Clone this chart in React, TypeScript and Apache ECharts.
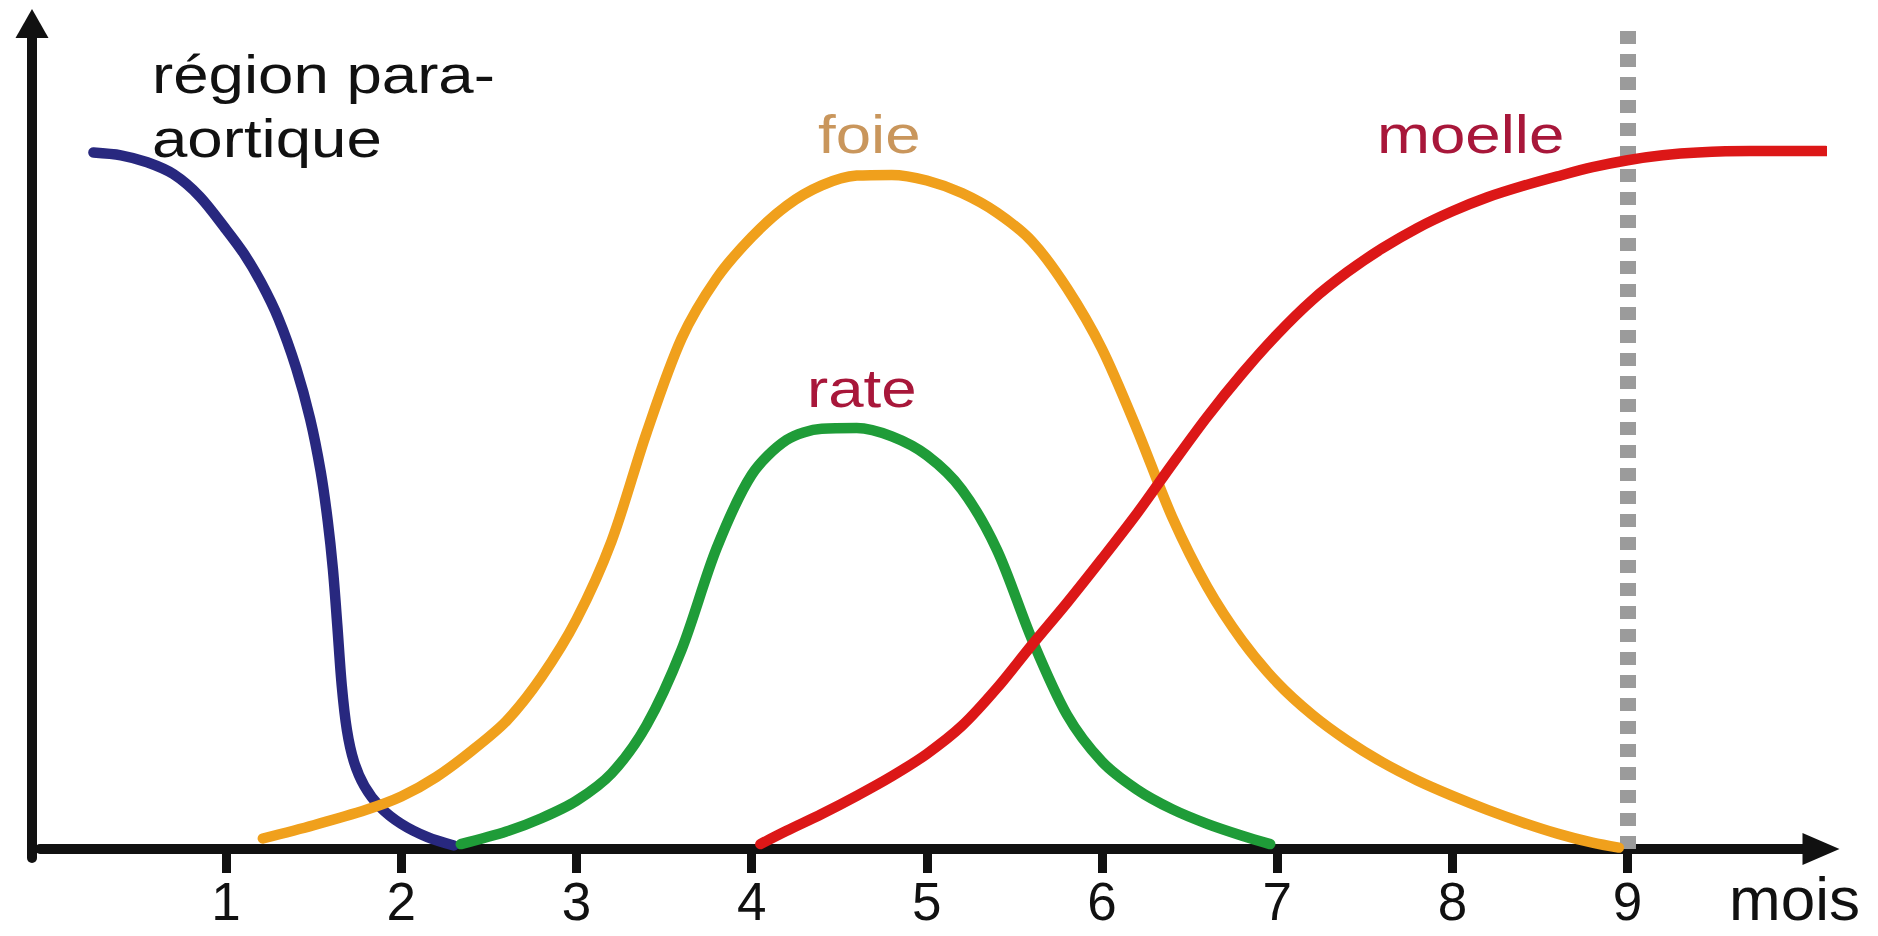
import { useEffect, useRef } from 'react';
import * as echarts from 'echarts';

// Months shown on the horizontal axis
const MONTH_TICKS = [1, 2, 3, 4, 5, 6, 7, 8, 9];
const AXIS_TITLE = 'mois';
const BIRTH_MONTH = 9;

// Relative haematopoietic activity (0–100) per site, as [month, level]
const regionParaAortique: [number, number][] = [
  [0.243, 99.6], [0.4, 99.2], [0.55, 98.2], [0.7, 96.5], [0.85, 93.3],
  [1.0, 88.6], [1.1, 85.2], [1.2, 81.0], [1.3, 75.8], [1.4, 68.8],
  [1.48, 61.5], [1.54, 54.0], [1.58, 47.0], [1.61, 40.0], [1.635, 32.0],
  [1.66, 23.5], [1.69, 17.0], [1.73, 12.5], [1.79, 9.0], [1.88, 6.0],
  [2.0, 3.6], [2.15, 1.7], [2.3, 0.5],
];

const foie: [number, number][] = [
  [1.21, 1.5], [1.5, 3.4], [1.8, 5.6], [2.0, 7.5], [2.2, 10.3],
  [2.4, 14.0], [2.6, 18.3], [2.8, 24.6], [3.0, 32.8], [3.2, 44.0],
  [3.4, 59.5], [3.6, 73.0], [3.8, 81.6], [4.0, 87.5], [4.2, 92.0],
  [4.4, 94.9], [4.6, 96.3], [4.8, 96.4], [5.0, 95.6], [5.2, 93.8],
  [5.4, 91.0], [5.6, 86.9], [5.8, 80.2], [6.0, 71.5], [6.2, 60.0],
  [6.4, 47.5], [6.6, 37.5], [6.8, 29.8], [7.0, 23.8], [7.2, 19.2],
  [7.4, 15.5], [7.6, 12.4], [7.8, 9.8], [8.0, 7.6], [8.2, 5.6],
  [8.4, 3.8], [8.6, 2.2], [8.8, 0.9], [8.95, 0.2],
];

const rate: [number, number][] = [
  [2.34, 0.7], [2.6, 2.5], [2.8, 4.4], [3.0, 6.9], [3.2, 10.8],
  [3.4, 17.7], [3.6, 28.5], [3.8, 43.0], [4.0, 53.5], [4.2, 58.5],
  [4.4, 60.1], [4.6, 60.2], [4.8, 59.0], [5.0, 56.3], [5.2, 51.4],
  [5.4, 42.8], [5.6, 30.0], [5.8, 19.2], [6.0, 12.5], [6.2, 8.5],
  [6.4, 5.7], [6.6, 3.6], [6.8, 1.9], [6.96, 0.7],
];

const moelle: [number, number][] = [
  [4.05, 0.7], [4.2, 2.6], [4.4, 5.0], [4.6, 7.6], [4.8, 10.4],
  [5.0, 13.6], [5.2, 17.6], [5.4, 23.0], [5.6, 29.2], [5.8, 35.2],
  [6.0, 41.5], [6.2, 48.0], [6.4, 55.0], [6.6, 61.8], [6.8, 68.0],
  [7.0, 73.6], [7.2, 78.5], [7.4, 82.5], [7.6, 85.9], [7.8, 88.8],
  [8.0, 91.2], [8.2, 93.2], [8.4, 94.8], [8.6, 96.2], [8.8, 97.5],
  [9.0, 98.5], [9.2, 99.2], [9.4, 99.6], [9.7, 99.8], [10.13, 99.8],
];

const FONT = '"Liberation Sans", Arial, Helvetica, sans-serif';

export default function App() {
  const ref = useRef<HTMLDivElement>(null);

  useEffect(() => {
    if (!ref.current) return;
    const chart = echarts.init(ref.current, null, { renderer: 'svg' });

    const curve = (name: string, data: [number, number][], color: string, z: number) => ({
      type: 'line',
      name,
      data,
      smooth: 0.3,
      showSymbol: false,
      symbol: 'none',
      silent: true,
      z,
      lineStyle: { color, width: 10.5, cap: 'round', join: 'round' },
    });

    const label = (text: string, x: number, y: number, fill: string) => ({
      type: 'text',
      x,
      y,
      scaleX: 1.2,
      silent: true,
      style: {
        text,
        fontFamily: FONT,
        fontSize: 53,
        fill,
        align: 'left',
        verticalAlign: 'middle',
      },
    });

    chart.setOption({
      animation: false,
      backgroundColor: '#ffffff',
      grid: {
        left: 40,
        right: 57,
        top: 23.5,
        bottom: 78,
        containLabel: false,
        outerBoundsMode: 'none',
      },
      xAxis: {
        type: 'value',
        min: -0.062,
        max: 10.104,
        name: AXIS_TITLE,
        nameLocation: 'end',
        nameGap: -92,
        nameTextStyle: {
          fontFamily: FONT,
          fontSize: 62,
          color: '#111',
          align: 'left',
          verticalAlign: 'top',
          padding: [18, 0, 0, 0],
        },
        axisLine: {
          onZero: true,
          symbol: ['none', 'triangle'],
          symbolSize: [32, 37],
          lineStyle: { color: '#111', width: 10 },
        },
        axisTick: {
          show: true,
          customValues: MONTH_TICKS,
          length: 24,
          lineStyle: { color: '#111', width: 9 },
        },
        axisLabel: {
          customValues: MONTH_TICKS,
          fontFamily: FONT,
          fontSize: 53,
          color: '#111',
          margin: 17,
        },
        splitLine: { show: false },
      },
      yAxis: {
        type: 'value',
        min: -1.287,
        max: 118.05,
        offset: 8,
        axisLine: {
          show: true,
          onZero: false,
          symbol: ['none', 'triangle'],
          symbolSize: [33, 29],
          lineStyle: { color: '#111', width: 10 },
        },
        axisTick: { show: false },
        axisLabel: { show: false },
        splitLine: { show: false },
      },
      series: [
        {
          ...curve('région para-aortique', regionParaAortique, '#28287f', 3),
          markLine: {
            silent: true,
            z: 1,
            symbol: ['none', 'none'],
            label: { show: false },
            lineStyle: { color: '#9b9b9b', width: 16, type: [13, 10], cap: 'butt' },
            data: [[{ coord: [BIRTH_MONTH, 0] }, { coord: [BIRTH_MONTH, 118] }]],
          },
        },
        curve('foie', foie, '#f0a01c', 4),
        curve('rate', rate, '#1f9c38', 5),
        curve('moelle', moelle, '#dc1717', 6),
      ],
      graphic: [
        label('région para-', 152, 74.6, '#111111'),
        label('aortique', 152, 138.6, '#111111'),
        label('foie', 818, 134.6, '#c9965c'),
        label('rate', 807, 388.6, '#a8173a'),
        label('moelle', 1377, 134.6, '#a8173a'),
      ],
    });

    return () => chart.dispose();
  }, []);

  return (
    <div
      ref={ref}
      style={{ position: 'fixed', left: 0, top: 0, width: 1878, height: 936 }}
    />
  );
}
